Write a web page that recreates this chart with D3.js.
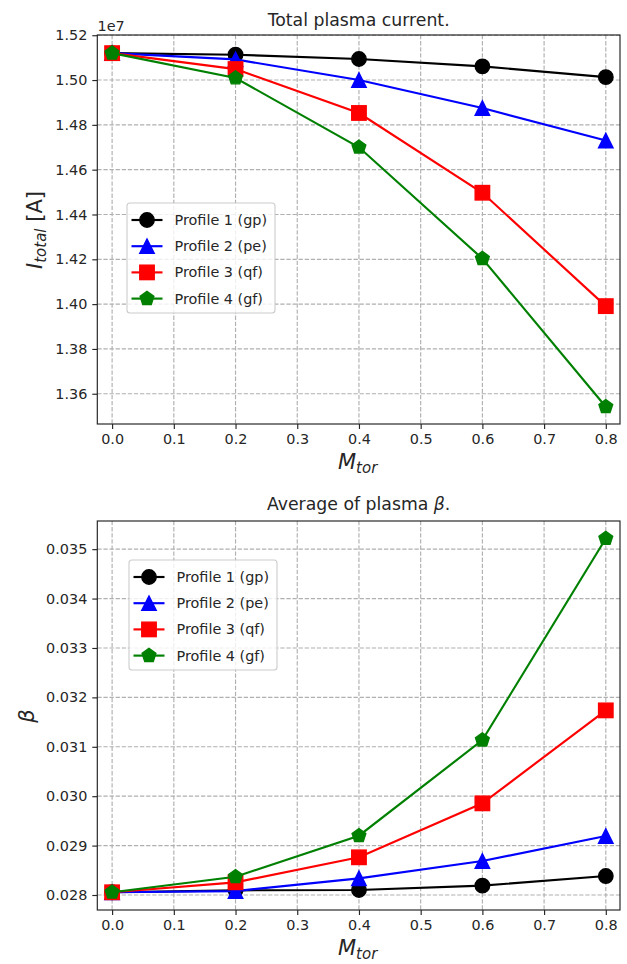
<!DOCTYPE html>
<html>
<head>
<meta charset="utf-8">
<script src="https://cdn.jsdelivr.net/npm/d3@7"></script>
<style>
  html, body { margin: 0; padding: 0; background: #fff; }
  svg { display: block; font-family: "DejaVu Sans", sans-serif; }
</style>
</head>
<body>
<svg id="chart" width="627" height="964"></svg>
<script>
// ---------------- DATA ----------------
const mtor = [0.0, 0.2, 0.4, 0.6, 0.8];
const seriesNames = ["Profile 1 (gp)", "Profile 2 (pe)", "Profile 3 (qf)", "Profile 4 (gf)"];
const seriesColors = ["#000000", "#0000ff", "#ff0000", "#008000"];
const seriesMarkers = ["circle", "triangle", "square", "pentagon"];

// Total plasma current (units of 1e7 A)
const current1 = [1.5120, 1.5113, 1.5094, 1.5061, 1.5013];
const current2 = [1.5120, 1.5092, 1.5000, 1.4875, 1.4730];
const current3 = [1.5120, 1.5049, 1.4853, 1.4497, 1.3991];
const current4 = [1.5120, 1.5009, 1.4700, 1.4203, 1.3542];

// Average plasma beta
const beta1 = [0.028055, 0.028095, 0.028101, 0.028189, 0.028384];
const beta2 = [0.028055, 0.028080, 0.028337, 0.028688, 0.029194];
const beta3 = [0.028055, 0.028257, 0.028763, 0.029855, 0.031737];
const beta4 = [0.028055, 0.028370, 0.029200, 0.031135, 0.035216];

const xTicks = [0.0, 0.1, 0.2, 0.3, 0.4, 0.5, 0.6, 0.7, 0.8];
const currentTicks = [1.36, 1.38, 1.40, 1.42, 1.44, 1.46, 1.48, 1.50, 1.52];
const betaTicks = [0.028, 0.029, 0.030, 0.031, 0.032, 0.033, 0.034, 0.035];

// ---------------- LAYOUT ----------------
const svg = d3.select("#chart");
const PT = 1.44;
const textColor = "#262626";
const tickFont = 14.4;
const L = 97.3, R = 620;

function drawMarker(g, type, cx, cy, color) {
  const s = 10 * PT / 2; // half marker size
  let el;
  if (type === "circle") {
    el = g.append("circle").attr("cx", cx).attr("cy", cy).attr("r", s);
  } else if (type === "square") {
    el = g.append("rect").attr("x", cx - s).attr("y", cy - s).attr("width", 2 * s).attr("height", 2 * s);
  } else if (type === "triangle") {
    el = g.append("path").attr("d", `M${cx},${cy - s}L${cx - s},${cy + s}L${cx + s},${cy + s}Z`);
  } else {
    const pts = d3.range(5).map(k => {
      const a = Math.PI / 2 + k * 2 * Math.PI / 5;
      return [cx + s * Math.cos(a), cy - s * Math.sin(a)];
    });
    el = g.append("path").attr("d", "M" + pts.map(p => p.join(",")).join("L") + "Z");
  }
  el.attr("fill", color).attr("stroke", color).attr("stroke-width", 1 * PT).attr("stroke-linejoin", "miter");
}

function panel(opt) {
  const x = d3.scaleLinear().domain([-0.024, 0.823]).range([L, R]);
  const y = d3.scaleLinear().domain(opt.ydom).range([opt.bottom, opt.top]);
  const g = svg.append("g");

  // grid
  const grid = g.append("g");
  xTicks.forEach(t => {
    grid.append("line").attr("x1", x(t)).attr("x2", x(t)).attr("y1", opt.top).attr("y2", opt.bottom)
      .attr("stroke", "#b0b0b0").attr("stroke-width", 0.8 * PT).attr("stroke-dasharray", "4.3,1.8");
  });
  opt.yticks.forEach(t => {
    grid.append("line").attr("x1", L).attr("x2", R).attr("y1", y(t)).attr("y2", y(t))
      .attr("stroke", "#b0b0b0").attr("stroke-width", 0.8 * PT).attr("stroke-dasharray", "4.3,1.8");
  });

  // axes via d3
  const xAxis = d3.axisBottom(x).tickValues(xTicks).tickFormat(d3.format(".1f")).tickSize(5).tickPadding(5);
  const yAxis = d3.axisLeft(y).tickValues(opt.yticks).tickFormat(opt.fmt).tickSize(5).tickPadding(5);
  const gx = g.append("g").attr("transform", `translate(0,${opt.bottom})`).call(xAxis);
  const gy = g.append("g").attr("transform", `translate(${L},0)`).call(yAxis);
  [gx, gy].forEach(a => {
    a.select(".domain").remove();
    a.selectAll(".tick line").attr("stroke", textColor).attr("stroke-width", 0.8 * PT);
    a.selectAll(".tick text").attr("fill", textColor).attr("font-size", tickFont)
      .attr("font-family", "DejaVu Sans");
  });

  // series
  const series = [opt.s1, opt.s2, opt.s3, opt.s4];
  const line = d3.line().x((d, i) => x(mtor[i])).y(d => y(d));
  series.forEach((vals, k) => {
    g.append("path").datum(vals).attr("d", line).attr("fill", "none")
      .attr("stroke", seriesColors[k]).attr("stroke-width", 1.5 * PT);
    vals.forEach((v, i) => drawMarker(g, seriesMarkers[k], x(mtor[i]), y(v), seriesColors[k]));
  });

  // frame
  g.append("rect").attr("x", L).attr("y", opt.top).attr("width", R - L).attr("height", opt.bottom - opt.top)
    .attr("fill", "none").attr("stroke", "#222").attr("stroke-width", 0.8 * PT);

  // title
  const title = g.append("text").attr("x", (L + R) / 2).attr("y", opt.titleY)
    .attr("text-anchor", "middle").attr("font-size", 17.3).attr("fill", textColor);
  title.append("tspan").text(opt.title);
  if (opt.titleSym) {
    title.append("tspan").attr("font-style", "italic").text(opt.titleSym);
    title.append("tspan").text(".");
  }

  // x label M_tor
  const xl = g.append("text").attr("x", (L + R) / 2 - 1).attr("y", opt.bottom + 45)
    .attr("text-anchor", "middle").attr("font-size", 21).attr("fill", textColor).attr("font-style", "italic");
  xl.append("tspan").text("M");
  xl.append("tspan").attr("font-size", 15).attr("dy", 3.5).text("tor");

  // legend
  const lg = g.append("g");
  lg.append("rect").attr("x", opt.lx).attr("y", opt.ly).attr("width", 148).attr("height", 110)
    .attr("rx", 3).attr("fill", "#fff").attr("fill-opacity", 0.8).attr("stroke", "#cccccc").attr("stroke-width", 1.1);
  seriesNames.forEach((name, k) => {
    const cy = opt.ly + 17 + k * 26.2;
    const x0 = opt.lx + 4.5, x1 = opt.lx + 35.5;
    lg.append("line").attr("x1", x0).attr("x2", x1).attr("y1", cy).attr("y2", cy)
      .attr("stroke", seriesColors[k]).attr("stroke-width", 1.5 * PT);
    drawMarker(lg, seriesMarkers[k], (x0 + x1) / 2, cy, seriesColors[k]);
    lg.append("text").attr("x", opt.lx + 47.5).attr("y", cy + 5).attr("font-size", tickFont)
      .attr("fill", textColor).text(name);
  });
  return g;
}

// Top panel
const topPanel = panel({
  top: 35, bottom: 424, ydom: [1.3465, 1.5201], yticks: currentTicks,
  fmt: d3.format(".2f"), s1: current1, s2: current2, s3: current3, s4: current4,
  title: "Total plasma current.", titleY: 25.5, lx: 127, ly: 203
});
// offset text
svg.append("text").attr("x", 97.5).attr("y", 31).attr("font-size", tickFont).attr("fill", textColor).text("1e7");
// y label top
const yl1 = svg.append("text").attr("transform", "translate(42,230) rotate(-90)")
  .attr("text-anchor", "middle").attr("font-size", 21).attr("fill", textColor);
yl1.append("tspan").attr("font-style", "italic").text("I");
yl1.append("tspan").attr("font-style", "italic").attr("font-size", 15).attr("dy", 4).text("total");
yl1.append("tspan").attr("dy", -4).text(" [A]");

// Bottom panel
const botPanel = panel({
  top: 521, bottom: 910, ydom: [0.0276965, 0.03557], yticks: betaTicks,
  fmt: d3.format(".3f"), s1: beta1, s2: beta2, s3: beta3, s4: beta4,
  title: "Average of plasma ", titleSym: "β", titleY: 509.5, lx: 129, ly: 560
});
svg.append("text").attr("transform", "translate(34,716) rotate(-90)")
  .attr("text-anchor", "middle").attr("font-size", 21).attr("font-style", "italic").attr("fill", textColor).text("β");
</script>
</body>
</html>
